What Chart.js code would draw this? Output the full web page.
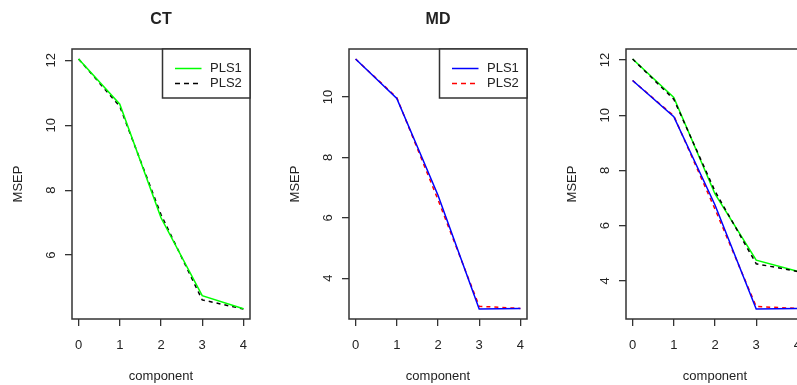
<!DOCTYPE html>
<html>
<head>
<meta charset="utf-8">
<script src="https://cdn.jsdelivr.net/npm/chart.js@4/dist/chart.umd.min.js"></script>
<style>
html, body { margin: 0; padding: 0; background: #fff; overflow: hidden; width: 797px; height: 385px; }
.panel { position: absolute; top: 0; width: 277px; height: 385px; }
</style>
</head>
<body>
<div class="panel" style="left:0px"><canvas id="chartCT" width="277" height="385"></canvas></div>
<div class="panel" style="left:277px"><canvas id="chartMD" width="277" height="385"></canvas></div>
<div class="panel" style="left:554px"><canvas id="chartAll" width="277" height="385"></canvas></div>
<script>
// values
const components = [0, 1, 2, 3, 4];
const ctPls1 = [12.04, 10.65, 7.15, 4.75, 4.35];
const ctPls2 = [12.04, 10.58, 7.25, 4.62, 4.34];
const mdPls1 = [11.26, 9.95, 6.75, 2.98, 3.00];
const mdPls2 = [11.26, 9.98, 6.60, 3.07, 3.00];

const xTicks = [0, 1, 2, 3, 4];
const yTicksCT = [6, 8, 10, 12];
const yTicksMD = [4, 6, 8, 10];
const yTicksAll = [4, 6, 8, 10, 12];

const FONT = '"Liberation Sans", Arial, sans-serif';
const INK = '#222';

// R style axis range: data range extended by 4% on each side
function rRange(arrs) {
    const all = [].concat(...arrs);
    const lo = Math.min(...all), hi = Math.max(...all);
    const ext = (hi - lo) * 0.04;
    return { min: lo - ext, max: hi + ext };
}

function toPoints(vals) {
    return components.map((c, i) => ({ x: c, y: vals[i] }));
}

function series(label, vals, color, dashed, order) {
    return {
        label: label,
        data: toPoints(vals),
        borderColor: color,
        borderWidth: 1.5,
        borderDash: dashed ? [4, 4] : [],
        pointRadius: 0,
        tension: 0,
        fill: false,
        order: order
    };
}

// box, title and legend like base R plots
const rDecor = {
    id: 'rDecor',
    afterDatasetsDraw(chart, args, opts) {
        const ctx = chart.ctx;
        const a = chart.chartArea;
        ctx.save();
        ctx.strokeStyle = '#333';
        ctx.lineWidth = 1.5;
        ctx.strokeRect(a.left, a.top, a.right - a.left, a.bottom - a.top);

        if (opts.title) {
            ctx.fillStyle = INK;
            ctx.font = 'bold 16px ' + FONT;
            ctx.textAlign = 'center';
            ctx.textBaseline = 'middle';
            ctx.fillText(opts.title, (a.left + a.right) / 2, 20);
        }

        if (opts.legend) {
            const bx = a.right - 87.5, by = a.top, bh = 49;
            ctx.fillStyle = '#fff';
            ctx.fillRect(bx, by, a.right - bx, bh);
            ctx.strokeStyle = '#333';
            ctx.lineWidth = 1.5;
            ctx.strokeRect(bx, by, a.right - bx, bh);
            ctx.font = '13px ' + FONT;
            ctx.textAlign = 'left';
            ctx.textBaseline = 'middle';
            opts.legend.forEach((it, i) => {
                const y = by + 19.5 + i * 15;
                ctx.beginPath();
                ctx.strokeStyle = it.color;
                ctx.lineWidth = 1.5;
                ctx.setLineDash(it.dashed ? [5, 4] : []);
                ctx.moveTo(bx + 12.5, y);
                ctx.lineTo(bx + 39, y);
                ctx.stroke();
                ctx.setLineDash([]);
                ctx.fillStyle = INK;
                ctx.fillText(it.label, bx + 47.5, y);
            });
        }
        ctx.restore();
    }
};

function makeChart(id, datasets, yTicks, range, title, legend) {
    const ctx = document.getElementById(id).getContext('2d');
    return new Chart(ctx, {
        type: 'line',
        data: { datasets: datasets },
        plugins: [rDecor],
        options: {
            responsive: false,
            animation: false,
            layout: { padding: { top: 49, right: 27, left: 0, bottom: 0 } },
            plugins: {
                legend: { display: false },
                tooltip: { enabled: false },
                rDecor: { title: title, legend: legend }
            },
            scales: {
                x: {
                    type: 'linear',
                    min: -0.16,
                    max: 4.16,
                    afterBuildTicks: s => { s.ticks = xTicks.map(v => ({ value: v })); },
                    afterFit: s => { s.height = 66; },
                    grid: { drawOnChartArea: false, drawTicks: true, tickLength: 7, color: '#333', lineWidth: 1.3 },
                    border: { display: false },
                    ticks: { color: INK, font: { family: FONT, size: 13 }, padding: 12, maxRotation: 0 },
                    title: { display: true, text: 'component', color: INK, font: { family: FONT, size: 13 }, padding: { top: 0, bottom: 1 } }
                },
                y: {
                    type: 'linear',
                    min: range.min,
                    max: range.max,
                    afterBuildTicks: s => { s.ticks = yTicks.map(v => ({ value: v })); },
                    afterFit: s => { s.width = 72; },
                    grid: { drawOnChartArea: false, drawTicks: true, tickLength: 7, color: '#333', lineWidth: 1.3 },
                    border: { display: false },
                    ticks: { color: INK, font: { family: FONT, size: 13 }, minRotation: 90, maxRotation: 90, crossAlign: 'center', padding: 6 },
                    title: { display: true, text: 'MSEP', color: INK, font: { family: FONT, size: 13 }, padding: { top: 11, bottom: 0 } }
                }
            }
        }
    });
}

makeChart('chartCT', [
    series('PLS1', ctPls1, '#00ff00', false, 0),
    series('PLS2', ctPls2, '#000000', true, 1)
], yTicksCT, rRange([ctPls1, ctPls2]), 'CT', [
    { label: 'PLS1', color: '#00ff00', dashed: false },
    { label: 'PLS2', color: '#000000', dashed: true }
]);

makeChart('chartMD', [
    series('PLS1', mdPls1, '#0000ff', false, 0),
    series('PLS2', mdPls2, '#ff0000', true, 1)
], yTicksMD, rRange([mdPls1, mdPls2]), 'MD', [
    { label: 'PLS1', color: '#0000ff', dashed: false },
    { label: 'PLS2', color: '#ff0000', dashed: true }
]);

makeChart('chartAll', [
    series('CT PLS1', ctPls1, '#00ff00', false, 3),
    series('CT PLS2', ctPls2, '#000000', true, 2),
    series('MD PLS1', mdPls1, '#0000ff', false, 0),
    series('MD PLS2', mdPls2, '#ff0000', true, 1)
], yTicksAll, rRange([ctPls1, ctPls2, mdPls1, mdPls2]), null, null);
</script>
</body>
</html>
